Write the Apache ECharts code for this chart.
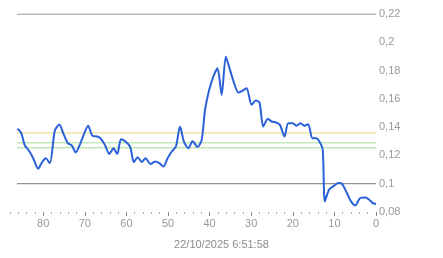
<!DOCTYPE html>
<html>
<head>
<meta charset="utf-8">
<script src="https://cdn.jsdelivr.net/npm/echarts@6/dist/echarts.min.js"></script>
<style>
html,body{margin:0;padding:0;background:#fff;}
#c{width:443px;height:258px;}
</style>
</head>
<body>
<div id="c"></div>
<script>
var ages = [86.2,85.3,84.4,83.3,82.4,81.2,80.4,79.4,78.4,77.2,76.1,75.2,74.1,73.1,72.2,71.2,70.1,69.2,68.2,67,66.2,65.1,64.1,63.1,62.2,61.3,60.3,59.1,58.2,57.3,56.3,55.4,54.2,53.1,52.1,51.1,50.1,49.1,48.1,47.1,46.2,45.1,44.1,42.9,41.9,41.1,40.1,39.1,38.1,37.1,36.1,35.1,34.1,33.1,32,31.1,29.9,28.9,28,27.1,26,25.1,24,23.1,22,21.1,20,19.1,18.1,17.2,16.3,15.3,14.4,13.5,12.8,12.3,11.3,10.3,9.1,8.2,7,6,5,3.8,2.6,1.6,0.8,0];
var values = [0.1388,0.136,0.127,0.1228,0.118,0.1106,0.1146,0.118,0.1146,0.1376,0.1419,0.1358,0.1287,0.127,0.122,0.1275,0.1358,0.141,0.134,0.1334,0.132,0.127,0.121,0.125,0.121,0.1315,0.130,0.126,0.1153,0.1188,0.1153,0.118,0.1139,0.1157,0.1146,0.1122,0.118,0.1228,0.1263,0.1404,0.130,0.125,0.130,0.126,0.131,0.1522,0.1663,0.1757,0.1816,0.1628,0.1898,0.1805,0.171,0.1645,0.1659,0.1675,0.1558,0.1588,0.1574,0.1404,0.1459,0.144,0.1433,0.1416,0.1334,0.1428,0.1428,0.141,0.1428,0.141,0.1421,0.1322,0.1322,0.1294,0.124,0.0875,0.0958,0.0981,0.1005,0.1,0.0934,0.0875,0.0847,0.0899,0.0903,0.0887,0.0863,0.0857];
var grayLevels = [0.22, 0.1];
var yellowLevels = [0.1359];
var greenLevels = [0.1289, 0.1254];
var majorTicks = [0,10,20,30,40,50,60,70,80];
var yMin = 0.08, yMax = 0.22, yStep = 0.02;
var xMin = 0, xMax = 90, xStep = 10;
var lineStart = 86.3, lineEnd = 0;
var titleText = '22/10/2025 6:51:58';

var chart = echarts.init(document.getElementById('c'), null, {renderer:'canvas'});
var pts = ages.map(function(a,i){return [a, values[i]];});
var font = '"Liberation Sans", Arial, sans-serif';
var series = [];
function hline(v, color){
  series.push({type:'line', data:[[lineStart, v],[lineEnd, v]], showSymbol:false, silent:true,
    lineStyle:{color:color, width:1}, itemStyle:{color:color}, z:1});
}
grayLevels.forEach(function(v){hline(v, '#777777');});
yellowLevels.forEach(function(v){hline(v, '#ecd27a');});
greenLevels.forEach(function(v){hline(v, '#a6dc92');});
series.push({type:'line', data:pts, showSymbol:false, smooth:0.25,
  lineStyle:{color:'#2a60d8', width:2}, itemStyle:{color:'#2a60d8'}, z:3});
chart.setOption({
  animation:false,
  textStyle:{fontFamily:font},
  title:{text:titleText, left:'center', top:234, textStyle:{fontSize:11, fontWeight:'normal', color:'#8c8c8c', fontFamily:font}},
  grid:{left:1.6, right:67, top:14, bottom:46},
  xAxis:{type:'value', inverse:true, min:xMin, max:xMax, interval:xStep,
    axisLine:{show:false},
    axisTick:{show:true, length:4, customValues:majorTicks, lineStyle:{color:'#888'}},
    minorTick:{show:true, splitNumber:5, length:2, lineStyle:{color:'#aaa'}},
    splitLine:{show:false},
    axisLabel:{color:'#999', fontSize:11, margin:6, customValues:majorTicks, fontFamily:font}
  },
  yAxis:{type:'value', position:'right', min:yMin, max:yMax, interval:yStep,
    axisLine:{show:false}, axisTick:{show:false}, splitLine:{show:false},
    axisLabel:{color:'#999', fontSize:11, margin:3, padding:[0,0,6,0], fontFamily:font,
      formatter:function(v){return String(+v.toFixed(2)).replace('.', ',');}}
  },
  series:series
});
</script>
</body>
</html>
